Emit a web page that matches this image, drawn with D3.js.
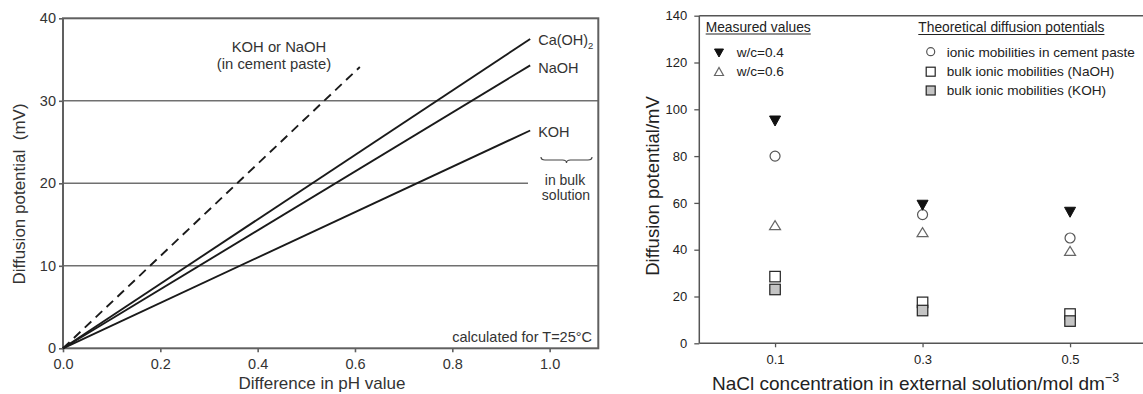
<!DOCTYPE html>
<html>
<head>
<meta charset="utf-8">
<script src="https://cdn.jsdelivr.net/npm/d3@7/dist/d3.min.js"></script>
<style>
html,body{margin:0;padding:0;background:#fff;}
svg{display:block;font-family:"Liberation Sans",Arial,Helvetica,sans-serif;}
</style>
</head>
<body>
<svg id="chart" width="1143" height="394"></svg>
<script>
// ---------- Left panel data ----------
const phDiff = [0, 0.96];                 // x range of bulk-solution lines
const caOH2Potential = [0, 37.5];
const naOHPotential = [0, 34.3];
const kOHPotential = [0, 26.4];
const phDiffPaste = [0, 0.61];            // dashed line x range
const pastePotential = [0, 34.1];
const leftLineNames = ["Ca(OH)2", "NaOH", "KOH"];
const leftYTicks = [0, 10, 20, 30, 40];
const leftXTicks = [0.0, 0.2, 0.4, 0.6, 0.8, 1.0];
const leftGridValues = [10, 20, 30];

// ---------- Right panel data ----------
const naclConc = [0.1, 0.3, 0.5];
const measuredWc04 = [95, 59, 56];
const measuredWc06 = [50.5, 47.5, 39.5];
const theoryCementPaste = [80, 55, 45];
const theoryBulkNaOH = [28.5, 17.5, 12.5];
const theoryBulkKOH = [23, 14, 9.5];
const rightYTicks = [0, 20, 40, 60, 80, 100, 120, 140];
const rightXTicks = [0.1, 0.3, 0.5];

const svg = d3.select("#chart");

// =============== LEFT PANEL ===============
const L = {left: 63, right: 598.3, top: 18.3, bottom: 348.3};
const xL = d3.scaleLinear().domain([0, 1.1]).range([L.left, L.right]);
const yL = d3.scaleLinear().domain([0, 40]).range([L.bottom, L.top]);
const gL = svg.append("g");
const leftText = "#333";

// gridlines
leftGridValues.forEach(v => {
  const xEnd = v === 20 ? 528 : L.right;
  gL.append("line").attr("x1", L.left).attr("x2", xEnd)
    .attr("y1", yL(v)).attr("y2", yL(v))
    .attr("stroke", "#707070").attr("stroke-width", 1.6);
});
// frame
gL.append("rect").attr("x", L.left).attr("y", L.top)
  .attr("width", L.right - L.left).attr("height", L.bottom - L.top)
  .attr("fill", "none").attr("stroke", "#606060").attr("stroke-width", 2);

// axes
const axL = gL.append("g").attr("transform", `translate(${L.left},0)`)
  .call(d3.axisLeft(yL).tickValues(leftYTicks).tickSize(4).tickPadding(3).tickFormat(d3.format("d")));
const axB = gL.append("g").attr("transform", `translate(0,${L.bottom})`)
  .call(d3.axisBottom(xL).tickValues(leftXTicks).tickSize(4).tickPadding(6).tickFormat(d3.format(".1f")));
[axL, axB].forEach(a => {
  a.select(".domain").remove();
  a.selectAll("line").attr("stroke", "#606060").attr("stroke-width", 1.6);
  a.selectAll("text").attr("fill", leftText).style("font-size", "14.5px").style("font-family", "inherit");
});

// lines
const lineGen = d3.line().x(d => xL(d[0])).y(d => yL(d[1]));
const bulkSeries = [caOH2Potential, naOHPotential, kOHPotential];
bulkSeries.forEach(s => {
  gL.append("path").datum(phDiff.map((x, i) => [x, s[i]]))
    .attr("d", lineGen).attr("fill", "none").attr("stroke", "#1a1a1a").attr("stroke-width", 1.9);
});
gL.append("path").datum(phDiffPaste.map((x, i) => [x, pastePotential[i]]))
  .attr("d", lineGen).attr("fill", "none").attr("stroke", "#1a1a1a").attr("stroke-width", 1.9)
  .attr("stroke-dasharray", "9,6");

// line labels
const labelOffsets = [6, 8, 6.5];
bulkSeries.forEach((s, i) => {
  const t = gL.append("text").attr("x", xL(phDiff[1]) + 8).attr("y", yL(s[1]) + labelOffsets[i])
    .attr("fill", leftText).style("font-size", "14.5px");
  if (leftLineNames[i] === "Ca(OH)2") {
    t.append("tspan").text("Ca(OH)");
    t.append("tspan").text("2").style("font-size", "9.5px").attr("dy", 4);
  } else {
    t.text(leftLineNames[i]);
  }
});
// brace
const bx1 = 541, bx2 = 592, by = 157;
const bm = (bx1 + bx2) / 2;
gL.append("path")
  .attr("d", `M${bx1},${by} Q${bx1},${by+3} ${bx1+4},${by+3} L${bm-4},${by+3} Q${bm},${by+3} ${bm},${by+6} Q${bm},${by+3} ${bm+4},${by+3} L${bx2-4},${by+3} Q${bx2},${by+3} ${bx2},${by}`)
  .attr("fill", "none").attr("stroke", "#444").attr("stroke-width", 1.2);
gL.append("text").attr("x", 565).attr("y", 184.5).attr("text-anchor", "middle")
  .attr("fill", leftText).style("font-size", "14px").text("in bulk");
gL.append("text").attr("x", 566).attr("y", 199.5).attr("text-anchor", "middle")
  .attr("fill", leftText).style("font-size", "14px").text("solution");
// paste label
gL.append("text").attr("x", 279).attr("y", 52).attr("text-anchor", "middle")
  .attr("fill", leftText).style("font-size", "14.8px").text("KOH or NaOH");
gL.append("text").attr("x", 274).attr("y", 69).attr("text-anchor", "middle")
  .attr("fill", leftText).style("font-size", "14.8px").text("(in cement paste)");
gL.append("text").attr("x", 592).attr("y", 342).attr("text-anchor", "end")
  .attr("fill", leftText).style("font-size", "14.5px").text("calculated for T=25°C");
// axis titles
gL.append("text").attr("transform", "translate(25,194) rotate(-90)").attr("text-anchor", "middle")
  .attr("fill", leftText).style("font-size", "17px").attr("xml:space", "preserve")
  .text("Diffusion potential  (mV)");
gL.append("text").attr("x", 322).attr("y", 389).attr("text-anchor", "middle")
  .attr("fill", leftText).style("font-size", "17px").text("Difference in pH value");

// =============== RIGHT PANEL ===============
const R = {left: 699.3, right: 1143, top: 15.7, bottom: 343.3};
const xR = d3.scaleLinear().domain([0, 0.6]).range([701.3, 1143.8]);
const yR = d3.scaleLinear().domain([0, 140]).range([R.bottom, R.top]);
const gR = svg.append("g");
const rightText = "#222";
const axisCol = "#555";

gR.append("line").attr("x1", R.left).attr("x2", R.right).attr("y1", R.top).attr("y2", R.top)
  .attr("stroke", axisCol).attr("stroke-width", 1.5);
gR.append("line").attr("x1", R.left).attr("x2", R.right).attr("y1", R.bottom).attr("y2", R.bottom)
  .attr("stroke", axisCol).attr("stroke-width", 1.5);
gR.append("line").attr("x1", R.left).attr("x2", R.left).attr("y1", R.top).attr("y2", R.bottom)
  .attr("stroke", axisCol).attr("stroke-width", 1.5);

const axRL = gR.append("g").attr("transform", `translate(${R.left},0)`)
  .call(d3.axisLeft(yR).tickValues(rightYTicks).tickSize(5).tickPadding(7).tickFormat(d3.format("d")));
const axRB = gR.append("g").attr("transform", `translate(0,${R.bottom})`)
  .call(d3.axisBottom(xR).tickValues(rightXTicks).tickSize(4).tickPadding(7).tickFormat(d3.format(".1f")));
[axRL, axRB].forEach(a => {
  a.select(".domain").remove();
  a.selectAll("line").attr("stroke", axisCol).attr("stroke-width", 1.3);
  a.selectAll("text").attr("fill", rightText).style("font-size", "13px").style("font-family", "inherit");
});

// marker helpers
function downTri(g, cx, cy, w, h) {
  g.append("path").attr("d", `M${cx-w/2},${cy-h/2} L${cx+w/2},${cy-h/2} L${cx},${cy+h/2} Z`)
    .attr("fill", "#111").attr("stroke", "#111").attr("stroke-width", 1);
}
function upTri(g, cx, cy, w, h) {
  g.append("path").attr("d", `M${cx-w/2},${cy+h/2} L${cx+w/2},${cy+h/2} L${cx},${cy-h/2} Z`)
    .attr("fill", "#fff").attr("stroke", "#666").attr("stroke-width", 1.2);
}
function circ(g, cx, cy, r) {
  g.append("circle").attr("cx", cx).attr("cy", cy).attr("r", r)
    .attr("fill", "#fff").attr("stroke", "#555").attr("stroke-width", 1.2);
}
function sq(g, cx, cy, s, fill) {
  g.append("rect").attr("x", cx - s/2).attr("y", cy - s/2).attr("width", s).attr("height", s)
    .attr("fill", fill).attr("stroke", "#222").attr("stroke-width", 1.2);
}

// data points
naclConc.forEach((c, i) => {
  const cx = xR(c);
  sq(gR, cx, yR(theoryBulkNaOH[i]), 10.5, "#fff");
  sq(gR, cx, yR(theoryBulkKOH[i]), 10.5, "#c4c4c4");
  upTri(gR, cx, yR(measuredWc06[i]), 11, 9);
  circ(gR, cx, yR(theoryCementPaste[i]), 5);
  downTri(gR, cx, yR(measuredWc04[i]), 11, 10);
});

// legends
function underlinedTitle(x, y, txt) {
  const t = gR.append("text").attr("x", x).attr("y", y).attr("fill", rightText)
    .style("font-size", "13.8px").text(txt);
  const w = t.node().getComputedTextLength();
  gR.append("line").attr("x1", x).attr("x2", x + w).attr("y1", y + 2.5).attr("y2", y + 2.5)
    .attr("stroke", rightText).attr("stroke-width", 1);
}
function legText(x, y, txt) {
  gR.append("text").attr("x", x).attr("y", y).attr("fill", rightText)
    .style("font-size", "13.6px").text(txt);
}
underlinedTitle(705.7, 31.5, "Measured values");
downTri(gR, 719, 53, 9, 8);
legText(736.7, 57, "w/c=0.4");
upTri(gR, 719, 71.5, 9, 8);
legText(736.7, 76, "w/c=0.6");

underlinedTitle(918.3, 32, "Theoretical diffusion potentials");
circ(gR, 930.7, 51.7, 4);
legText(946.7, 56.5, "ionic mobilities in cement paste");
sq(gR, 930.7, 71.7, 9, "#fff");
legText(946.7, 76, "bulk ionic mobilities (NaOH)");
sq(gR, 930.7, 90.5, 9, "#c4c4c4");
legText(946.7, 95, "bulk ionic mobilities (KOH)");

// axis titles
gR.append("text").attr("transform", "translate(659,186) rotate(-90)").attr("text-anchor", "middle")
  .attr("fill", rightText).style("font-size", "18.5px").text("Diffusion potential/mV");
const xt = gR.append("text").attr("x", 712).attr("y", 390).attr("fill", rightText)
  .style("font-size", "19px");
xt.append("tspan").text("NaCl concentration in external solution/mol dm");
xt.append("tspan").text("\u22123").style("font-size", "12.5px").attr("dy", -8);
</script>
</body>
</html>
